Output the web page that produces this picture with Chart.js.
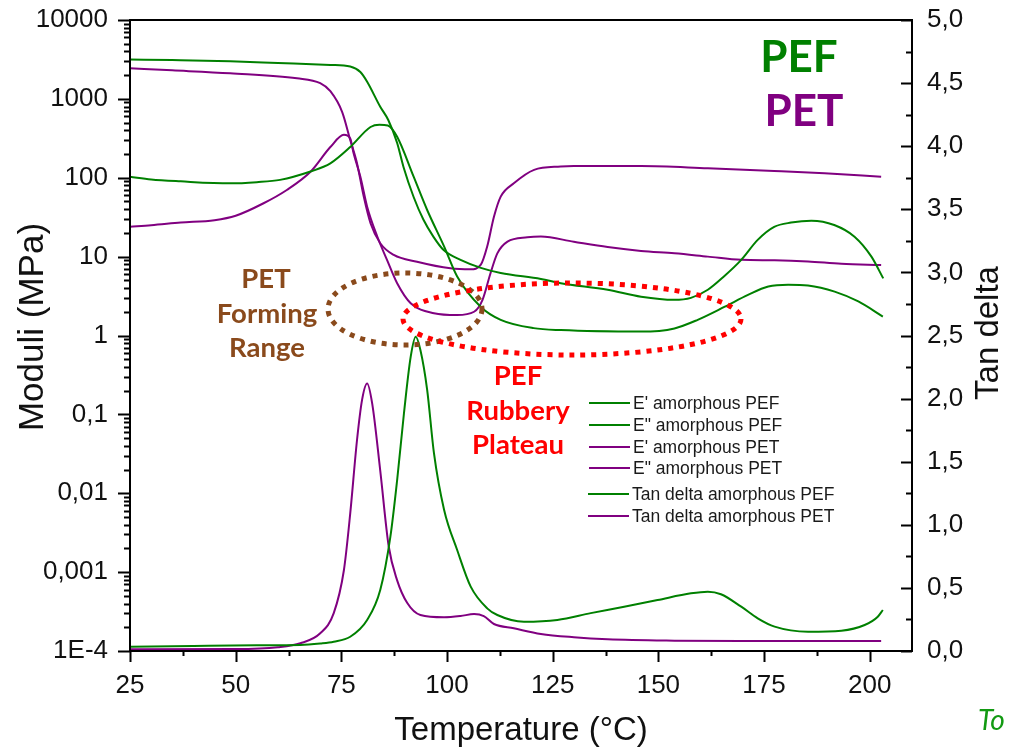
<!DOCTYPE html>
<html>
<head>
<meta charset="utf-8">
<script src="https://cdn.jsdelivr.net/npm/chart.js@4.4.0/dist/chart.umd.min.js"></script>
<style>
  html, body { margin: 0; padding: 0; background: #fff; }
  #wrap { width: 1009px; height: 752px; }
</style>
</head>
<body>
<div id="wrap"><canvas id="dmaChart" width="1009" height="752"></canvas></div>
<script>
// ---- data (temperature in °C) ----
var pefStorageT = [25, 35, 48.7, 60, 72.4, 77.1, 79.5, 81.1, 84.2, 86.1, 88.2, 89.7, 92.1, 94.4, 96.8, 99.2, 103.2, 108, 112.7, 122.2, 126.9, 138, 145.9, 153.7, 157.7, 161.7, 165.5, 169.6, 173.5, 177.4, 181.4, 186.2, 191.6, 196.4, 200.4, 203.2];
var pefStorage  = [3150, 3100, 3000, 2850, 2690, 2570, 2190, 1650, 795, 540, 276, 137, 57, 29.5, 17.8, 12.1, 9.1, 7.2, 6.2, 5.2, 4.6, 3.8, 3.1, 2.83, 3.0, 3.8, 5.6, 9.1, 16.3, 23.8, 27, 28.6, 25.2, 17.9, 10, 5.3];

var pefLossT = [25, 30, 37, 48.7, 55, 60.5, 67.7, 72.4, 77.1, 81.9, 84, 86, 88.2, 92.1, 95.3, 99.3, 102.4, 108, 112.7, 120.5, 126.9, 145.9, 153.8, 159.3, 165.6, 171.2, 176, 180.7, 185.4, 191.7, 197.3, 203.1];
var pefLoss  = [103, 95, 90, 85, 88, 94, 120, 152, 245, 440, 470, 460, 330, 103, 39, 13.5, 5.6, 2.3, 1.58, 1.24, 1.17, 1.12, 1.23, 1.58, 2.3, 3.27, 4.17, 4.4, 4.3, 3.6, 2.7, 1.74];

var petStorageT = [25, 35, 48.7, 64.5, 70, 72.4, 75.2, 77.1, 78.7, 80.3, 81.9, 84.2, 87.4, 92.9, 100.8, 105.6, 108, 109.5, 111.1, 112.7, 115.8, 120.6, 126.9, 130, 145.9, 161.7, 177.4, 189.3, 202.7];
var petStorage  = [2440, 2300, 2110, 1820, 1580, 1250, 680, 301, 153, 57.6, 26.5, 14.8, 10.5, 8.6, 7.1, 6.9, 7.9, 13.4, 32, 57.6, 85, 126, 139, 141, 141, 132, 122, 114, 103];

var petLossT = [25, 30, 37, 45, 50, 56.6, 62.1, 67.7, 72.4, 75.6, 77.1, 77.9, 79.5, 81.1, 83.5, 85.8, 88.2, 91.4, 96.9, 102.4, 106.4, 108.4, 110.3, 111.9, 114.3, 119, 122.2, 130, 138, 145.9, 153.8, 161.7, 169.6, 177.5, 185.4, 193.3, 202.7];
var petLoss  = [24, 25, 27, 29, 33, 47.5, 70, 119, 245, 350, 315, 204, 103, 43, 18, 9.1, 4.6, 2.57, 1.92, 1.82, 2.0, 2.83, 6.2, 11, 15.5, 17.6, 18, 15.4, 13.2, 11.8, 11, 10, 9.1, 9.0, 8.7, 8.1, 7.85];

var pefTanT = [25, 40, 55, 65.3, 70, 73.2, 77.1, 81.1, 84.2, 86.6, 88.2, 89.8, 91.4, 92.6, 93.7, 95.3, 96.9, 99.3, 102.4, 105.6, 109.5, 111.9, 118.2, 126.1, 134, 141.9, 149.8, 157.7, 161.7, 164.8, 169.6, 173.5, 177.5, 185.4, 193.3, 198.8, 201.9, 203.1];
var pefTan  = [0.034, 0.04, 0.045, 0.048, 0.06, 0.074, 0.113, 0.246, 0.483, 0.906, 1.355, 1.88, 2.33, 2.49, 2.385, 2.07, 1.57, 1.12, 0.80, 0.51, 0.338, 0.285, 0.232, 0.246, 0.30, 0.351, 0.404, 0.457, 0.47, 0.45, 0.351, 0.259, 0.193, 0.153, 0.161, 0.206, 0.272, 0.325];

var petTanT = [25, 50, 60, 65.3, 70, 73.2, 75.6, 77.1, 78.7, 79.9, 81.1, 82.3, 84.2, 86.2, 88.2, 90.6, 93.7, 99.3, 103.2, 106.4, 108.7, 111.1, 115.8, 122.2, 130, 138, 153.8, 169.6, 202.7];
var petTan  = [0.013, 0.015, 0.03, 0.061, 0.14, 0.30, 0.64, 1.09, 1.67, 1.99, 2.12, 1.96, 1.43, 0.83, 0.56, 0.38, 0.285, 0.267, 0.277, 0.293, 0.277, 0.214, 0.18, 0.135, 0.109, 0.093, 0.082, 0.079, 0.079];

var seriesLabels = ["E' amorphous PEF", 'E" amorphous PEF', "E' amorphous PET", 'E" amorphous PET', 'Tan delta amorphous PEF', 'Tan delta amorphous PET'];

var xTickValues = [25, 50, 75, 100, 125, 150, 175, 200];
var xTickLabels = ['25', '50', '75', '100', '125', '150', '175', '200'];
var yTickValues = [1e-4, 1e-3, 1e-2, 1e-1, 1, 10, 100, 1000, 10000];
var yTickLabels = ['1E-4', '0,001', '0,01', '0,1', '1', '10', '100', '1000', '10000'];
var y2TickValues = [0, 0.5, 1, 1.5, 2, 2.5, 3, 3.5, 4, 4.5, 5];
var y2TickLabels = ['0,0', '0,5', '1,0', '1,5', '2,0', '2,5', '3,0', '3,5', '4,0', '4,5', '5,0'];

var GREEN = '#008000';
var PURPLE = '#800080';

function toPoints(xs, ys) {
  return xs.map(function(x, i) { return { x: x, y: ys[i] }; });
}

function line(label, xs, ys, color, axis) {
  return {
    label: label,
    data: toPoints(xs, ys),
    borderColor: color,
    backgroundColor: color,
    borderWidth: 2,
    pointRadius: 0,
    fill: false,
    cubicInterpolationMode: 'monotone',
    yAxisID: axis
  };
}

// frame, tick marks, titles, notes and legend drawn on top
var decor = {
  id: 'decor',
  afterDatasetsDraw: function(chart) {
    var c = chart.ctx, a = chart.chartArea;
    var sx = chart.scales.x, sy = chart.scales.y, sy2 = chart.scales.y2;
    c.save();

    // dotted ellipses
    c.lineWidth = 5;
    c.setLineDash([5, 6]);
    c.strokeStyle = '#8a4a1c';
    c.beginPath(); c.ellipse(405, 309, 77, 36, 0, 0, Math.PI * 2); c.stroke();
    c.strokeStyle = '#ff0000';
    c.beginPath(); c.ellipse(572, 319, 169, 36, 0, 0, Math.PI * 2); c.stroke();
    c.setLineDash([]);

    // frame
    c.strokeStyle = '#000';
    c.lineWidth = 2;
    c.strokeRect(a.left, a.top, a.right - a.left, a.bottom - a.top);

    // x ticks (outward)
    c.beginPath();
    for (var t = 25; t <= 210; t += 12.5) {
      var px = Math.round(sx.getPixelForValue(t)) + 0.5;
      var len = (t - 25) % 25 === 0 ? 11 : 5;
      c.moveTo(px, a.bottom); c.lineTo(px, a.bottom + len);
    }
    // left log ticks (outward)
    for (var d = -4; d <= 4; d++) {
      for (var m = 1; m <= 9; m++) {
        if (d === 4 && m > 1) break;
        var v = m * Math.pow(10, d);
        var py = Math.round(sy.getPixelForValue(v)) + 0.5;
        var l2 = m === 1 ? 12 : 6;
        c.moveTo(a.left, py); c.lineTo(a.left - l2, py);
      }
    }
    // right ticks (inward)
    for (var k = 0; k <= 20; k++) {
      var py2 = Math.round(sy2.getPixelForValue(k * 0.25)) + 0.5;
      var l3 = k % 2 === 0 ? 11 : 6;
      c.moveTo(a.right, py2); c.lineTo(a.right - l3, py2);
    }
    c.stroke();

    // axis titles
    c.fillStyle = '#111';
    c.textAlign = 'center';
    c.textBaseline = 'middle';
    c.font = '33px "Liberation Sans", Arial, sans-serif';
    c.fillText('Temperature (°C)', 521, 731);
    c.save(); c.translate(989, 333); c.rotate(-Math.PI / 2); c.fillText('Tan delta', 0, 0); c.restore();
    c.font = '35px "Liberation Sans", Arial, sans-serif';
    c.save(); c.translate(33, 327); c.rotate(-Math.PI / 2); c.fillText('Moduli (MPa)', 0, 0); c.restore();

    // big labels
    c.font = 'bold 44px Lato, sans-serif';
    c.fillStyle = GREEN; c.fillText('PEF', 799, 58);
    c.fillStyle = PURPLE; c.fillText('PET', 804, 112);

    c.font = 'bold 27.5px Lato, sans-serif';
    c.fillStyle = '#8a4a1c';
    c.fillText('PET', 266, 279);
    c.fillText('Forming', 267, 314);
    c.fillText('Range', 267, 348);
    c.fillStyle = '#ff0000';
    c.fillText('PEF', 518, 376);
    c.fillText('Rubbery', 518, 411);
    c.fillText('Plateau', 518, 445);

    c.font = 'italic 28px Lato, sans-serif';
    c.fillStyle = '#129a12';
    c.textAlign = 'left';
    c.fillText('To', 978, 721);

    // legend
    var rows = [403, 425, 447, 468, 494, 516];
    c.font = '17.5px "Liberation Sans", Arial, sans-serif';
    c.lineWidth = 2;
    chart.data.datasets.forEach(function(ds, i) {
      var shift = i >= 4 ? -1 : 0;
      c.strokeStyle = ds.borderColor;
      c.beginPath(); c.moveTo(589 + shift, rows[i]); c.lineTo(630 + shift, rows[i]); c.stroke();
      c.fillStyle = '#1a1a1a';
      c.fillText(ds.label, 633 + shift, rows[i] + 1);
    });

    c.restore();
  }
};

var ctx = document.getElementById('dmaChart');
var tickFont = { family: '"Liberation Sans", Arial, sans-serif', size: 26 };

function noPad(s) {
  s.paddingTop = 0; s.paddingBottom = 0; s.paddingLeft = 0; s.paddingRight = 0;
}

var dmaChart = new Chart(ctx, {
  type: 'line',
  data: {
    datasets: [
      line(seriesLabels[0], pefStorageT, pefStorage, GREEN, 'y'),
      line(seriesLabels[1], pefLossT, pefLoss, GREEN, 'y'),
      line(seriesLabels[2], petStorageT, petStorage, PURPLE, 'y'),
      line(seriesLabels[3], petLossT, petLoss, PURPLE, 'y'),
      line(seriesLabels[4], pefTanT, pefTan, GREEN, 'y2'),
      line(seriesLabels[5], petTanT, petTan, PURPLE, 'y2')
    ]
  },
  options: {
    responsive: false,
    animation: false,
    devicePixelRatio: 1,
    layout: { padding: { top: 20, left: 0, right: 0, bottom: 0 } },
    plugins: { legend: { display: false }, tooltip: { enabled: false } },
    scales: {
      x: {
        type: 'linear',
        min: 25, max: 210,
        grid: { display: false, drawTicks: false },
        border: { display: false },
        afterBuildTicks: function(s) { s.ticks = xTickValues.map(function(v) { return { value: v }; }); },
        afterFit: function(s) { s.height = 101; noPad(s); },
        ticks: {
          autoSkip: false, maxRotation: 0, padding: 19, color: '#111', font: tickFont,
          callback: function(v, i) { return xTickLabels[i]; }
        }
      },
      y: {
        type: 'logarithmic',
        position: 'left',
        min: 1e-4, max: 1e4,
        grid: { display: false, drawTicks: false },
        border: { display: false },
        afterBuildTicks: function(s) { s.ticks = yTickValues.map(function(v) { return { value: v }; }); },
        afterFit: function(s) { s.width = 130; noPad(s); },
        ticks: {
          autoSkip: false, padding: 22, color: '#111', font: tickFont,
          callback: function(v, i) { return yTickLabels[i]; }
        }
      },
      y2: {
        type: 'linear',
        position: 'right',
        min: 0, max: 5,
        grid: { display: false, drawTicks: false },
        border: { display: false },
        afterBuildTicks: function(s) { s.ticks = y2TickValues.map(function(v) { return { value: v }; }); },
        afterFit: function(s) { s.width = 97; noPad(s); },
        ticks: {
          autoSkip: false, padding: 15, color: '#111', font: tickFont,
          callback: function(v, i) { return y2TickLabels[i]; }
        }
      }
    }
  },
  plugins: [decor]
});
</script>
</body>
</html>
